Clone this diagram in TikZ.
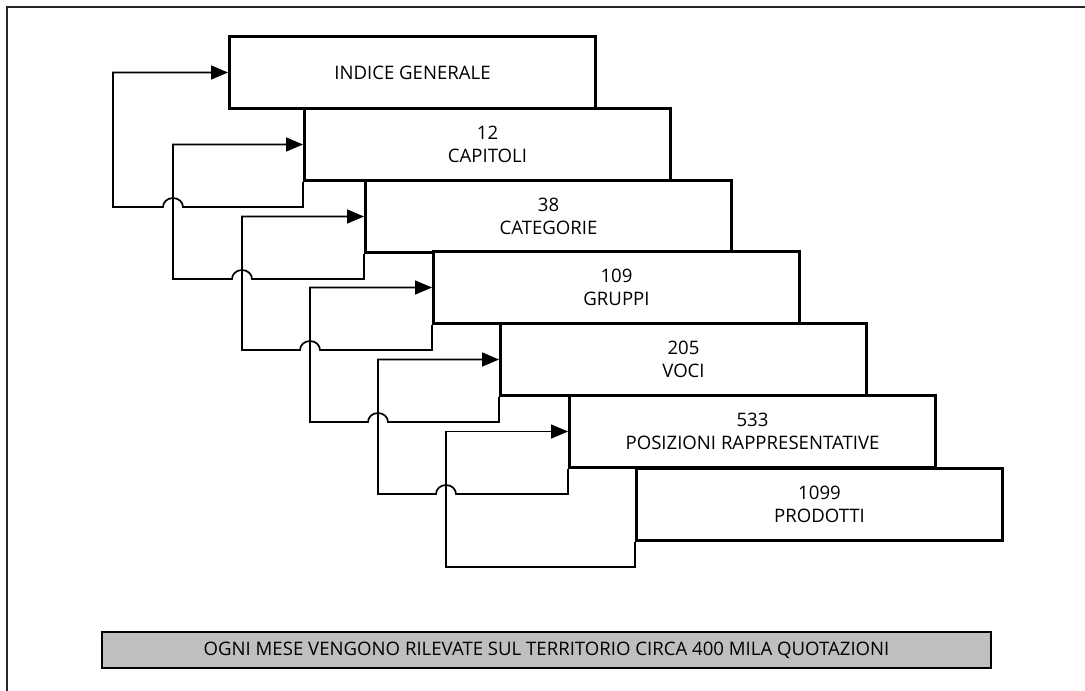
\documentclass[tikz,border=0pt]{standalone}
\usepackage{fontspec}
\setmainfont{Open Sans}
\usetikzlibrary{arrows.meta}

\tikzset{
  livello/.style={draw, line width=3pt, fill=white, minimum width=366pt,
    minimum height=72pt, inner sep=0pt, anchor=north west, align=center,
    font=\fontsize{18.6}{23}\selectfont},
  freccia/.style={line width=1.7pt, line join=miter,
    -{Triangle[length=17pt,width=14pt]}},
  nota/.style={draw, line width=1.8pt, fill=black!25, minimum width=889pt,
    minimum height=36pt, inner sep=0pt, font=\fontsize{18.6}{22}\selectfont}
}

\begin{document}
\begin{tikzpicture}[x=1pt,y=-1pt]
    \useasboundingbox (0,0) rectangle (1085,691);

    \draw[line width=2.2pt, black!85] (7,691) -- (7,7) -- (1085,7); %cornice

    %livelli dell'indice
    \node[livello] (b1) at (228,35) {INDICE GENERALE};
    \node[livello] (b2) at (303,107) {12\\CAPITOLI};
    \node[livello] (b3) at (364,179) {38\\CATEGORIE};
    \node[livello] (b4) at (432,250) {109\\GRUPPI};
    \node[livello] (b5) at (499,322) {205\\VOCI};
    \node[livello] (b6) at (568,394) {533\\POSIZIONI RAPPRESENTATIVE};
    \node[livello] (b7) at (635,467) {1099\\PRODOTTI};


    %frecce di ritorno con salto
    \foreach \k/\n/\xb/\xk/\xs in {1/2/303/113/173, 2/3/364/173/242,
        3/4/432/242/310, 4/5/499/310/378, 5/6/568/378/446}{

    \draw[freccia] (b\n.south west) -- ++(0,25) -- ++({\xs+10-\xb},0)
        arc[start angle=0, end angle=-180, x radius=10, y radius=9]
        -- ++({\xk-\xs+10},0) |- (b\k.west);
    }

    \draw[freccia] (b7.south west) -- ++(0,25) -- ++(-189,0) |- (b6.west);


    \node[nota] (nota) at (546.5,650)
    {OGNI MESE VENGONO RILEVATE SUL TERRITORIO CIRCA 400 MILA QUOTAZIONI};

\end{tikzpicture}
\end{document}
